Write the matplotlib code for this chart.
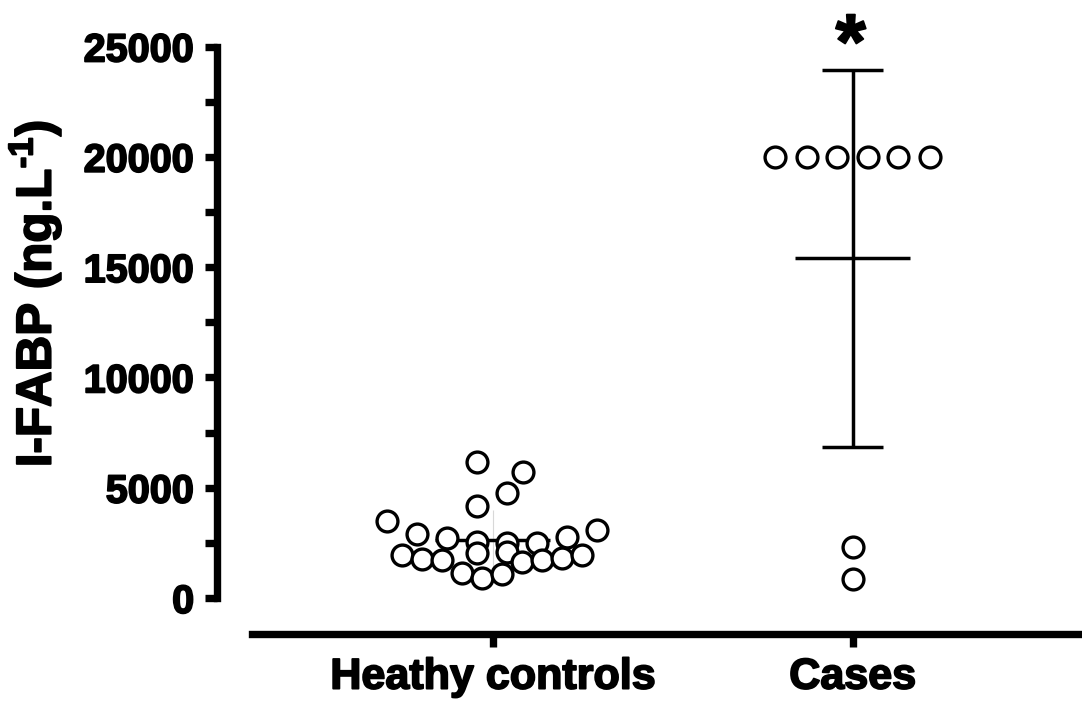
import numpy as np
import matplotlib
matplotlib.use("Agg")
import matplotlib.pyplot as plt
import matplotlib.patheffects as pe
from matplotlib.ticker import MultipleLocator

plt.rcParams['font.family'] = ['Liberation Sans', 'DejaVu Sans']
plt.rcParams['font.weight'] = 'bold'
plt.rcParams['mathtext.fontset'] = 'custom'
plt.rcParams['mathtext.rm'] = 'Liberation Sans:bold'
plt.rcParams['mathtext.bf'] = 'Liberation Sans:bold'
plt.rcParams['mathtext.default'] = 'bf'

groups = ['Heathy controls', 'Cases']

# scatter offsets (in category units) and values
controls_x = [-0.044, 0.086, 0.041, -0.044, -0.292, 0.289, -0.211, -0.126,
              -0.044, 0.039, 0.124, 0.208, -0.252, -0.197, -0.141, -0.044,
              0.039, 0.083, 0.138, 0.194, 0.249, -0.086, -0.030, 0.026]
controls_y = [6180, 5700, 4750, 4170, 3490, 3080, 2900, 2710,
              2550, 2480, 2510, 2750, 1950, 1770, 1720, 2030,
              2100, 1620, 1720, 1830, 1950, 1120, 890, 1070]

cases_x = [-0.215, -0.127, -0.042, 0.044, 0.127, 0.215, 0.0, 0.0]
cases_y = [20000, 20000, 20000, 20000, 20000, 20000, 2330, 850]

heavy = [pe.withStroke(linewidth=1.3, foreground='black')]

fig = plt.figure(figsize=(10.82, 7.02), dpi=100)
ax = fig.add_axes([216.5 / 1082, 68 / 702, (1082 - 216.5) / 1082, 634 / 702])

lw_err = 2.5
for i, vals in enumerate([controls_y, cases_y]):
    m = np.mean(vals)
    sd = np.std(vals, ddof=1)
    ax.hlines(m, i - 0.16, i + 0.16, color='black', lw=lw_err, zorder=2)
    if i == 1:
        ax.vlines(i, m - sd, m + sd, color='black', lw=lw_err, zorder=2)
        ax.hlines([m - sd, m + sd], i - 0.086, i + 0.086, color='black', lw=lw_err, zorder=2)
    else:
        ax.vlines(i, m - sd, m + sd, color='#d8d8d8', lw=0.8, zorder=1)

ax.plot(np.array(controls_x) + 0, controls_y, 'o', ms=15, mfc='white', mec='black',
        mew=2.4, ls='none', zorder=3, clip_on=False)
ax.plot(np.array(cases_x) + 1, cases_y, 'o', ms=15, mfc='white', mec='black',
        mew=2.4, ls='none', zorder=3, clip_on=False)

ax.text(0.995, 24950, '*', ha='center', va='center', fontsize=56, fontweight='bold',
        path_effects=heavy)

ax.set_xlim((216.5 - 492.5) / 360, (1082 - 492.5) / 360)
ax.set_ylim(-1632, 27108)

for s in ['top', 'right']:
    ax.spines[s].set_visible(False)
ax.spines['left'].set_linewidth(5.3)
ax.spines['bottom'].set_linewidth(5.3)
ax.spines['left'].set_bounds(0, 25000)
ax.spines['bottom'].set_bounds((252 - 492.5) / 360, (1082 - 492.5) / 360)

ax.set_xticks([0, 1])
ax.set_xticklabels(groups)
ax.yaxis.set_major_locator(MultipleLocator(5000))
ax.yaxis.set_minor_locator(MultipleLocator(2500))
ax.tick_params(axis='both', which='both', direction='out', length=9, width=5.3)
ax.tick_params(axis='y', labelsize=28.5, pad=7)
ax.tick_params(axis='x', labelsize=31, pad=8)
for lab in ax.get_xticklabels() + ax.get_yticklabels():
    lab.set_fontweight('bold')
    lab.set_path_effects(heavy)

ylab = ax.set_ylabel(r'I-FABP (ng.L$^{\text{-1}}$)', fontsize=35.5, fontweight='bold')
ylab.set_path_effects(heavy)
ax.yaxis.set_label_coords((64 - 216.5) / 865.5, (634 - 294) / 634)

fig.savefig('out.png', dpi=100)
